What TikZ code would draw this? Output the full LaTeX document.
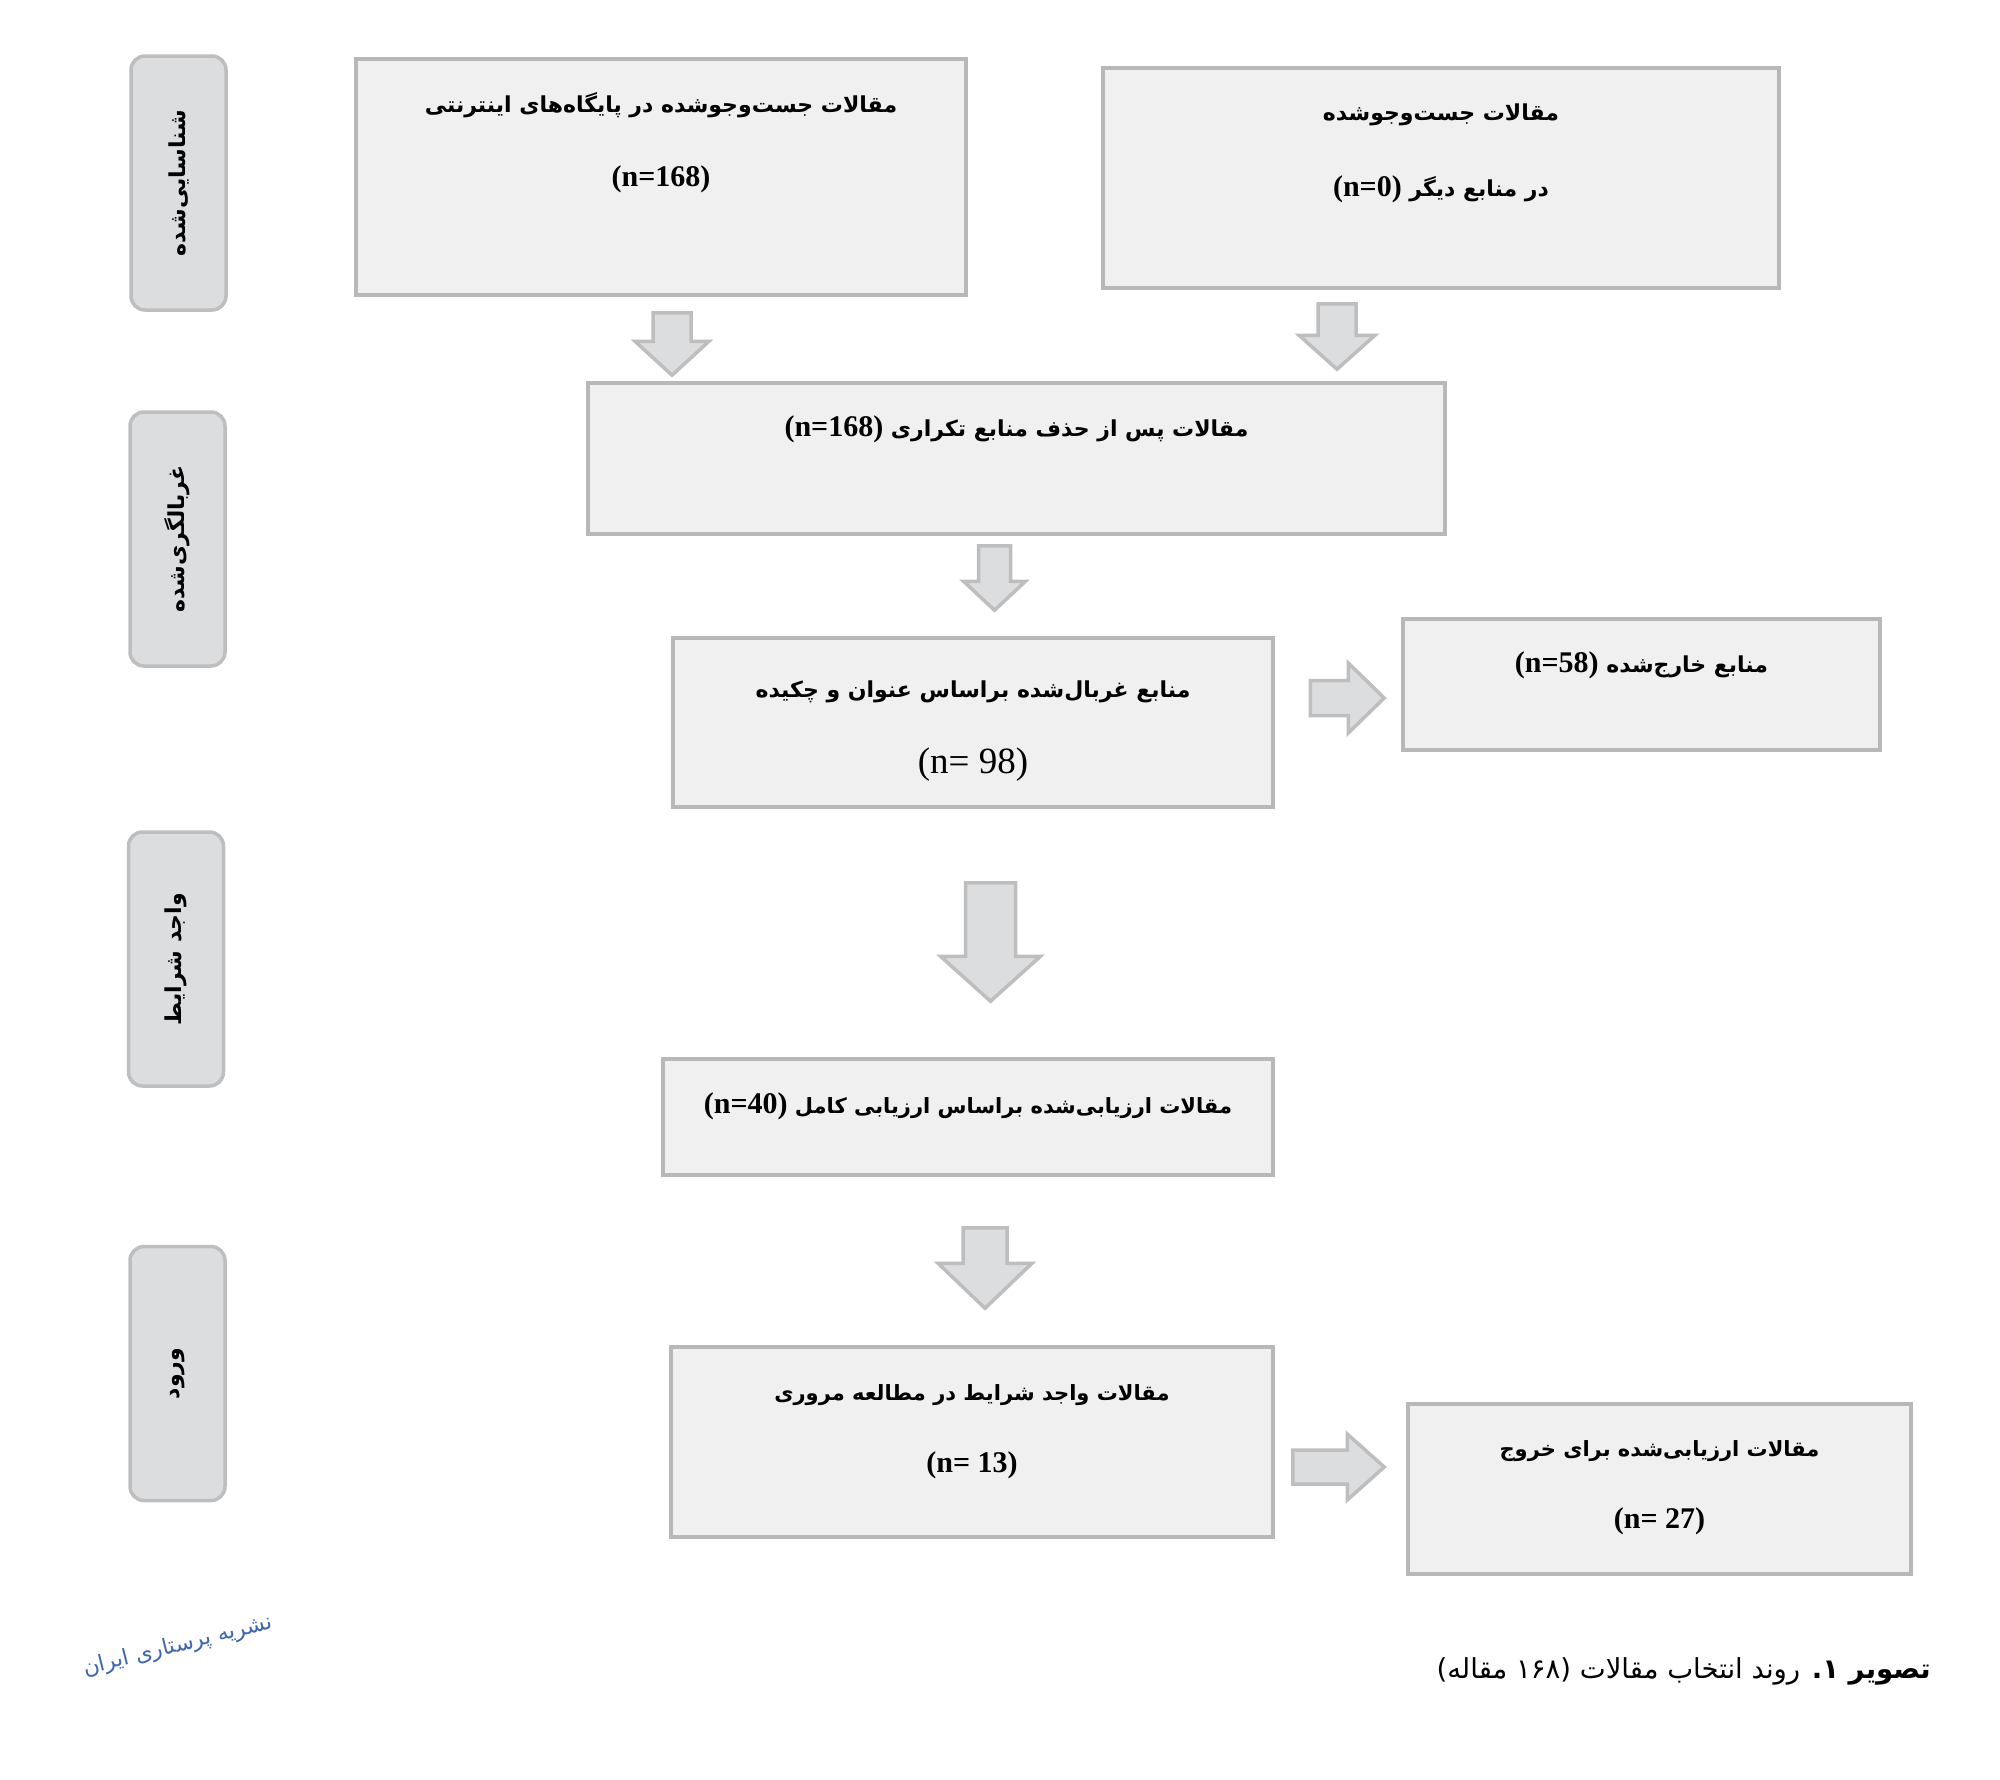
\documentclass[tikz,border=0pt]{standalone}
\usepackage{fontspec}
\setmainfont{Liberation Serif}
\newfontfamily\arabicfont[Script=Arabic]{DejaVu Sans}
\TeXXeTstate=1
\usetikzlibrary{calc}
\definecolor{boxfill}{HTML}{F0F0F0}
\definecolor{boxline}{HTML}{B8B8B8}
\definecolor{sidefill}{HTML}{DCDDDF}
\definecolor{sideline}{HTML}{BEBEBE}
\definecolor{logoblue}{HTML}{3F67B0}
\newcommand{\parsi}[1]{{\arabicfont\beginR #1\endR}}
\newcommand{\nbold}[1]{\beginL{\fontsize{30}{26}\selectfont\rmfamily #1}\endL}
\tikzset{
  paperbox/.style={draw=boxline, fill=boxfill, line width=3.5pt, inner sep=0pt, align=center,
    font=\bfseries\fontsize{22}{26}\selectfont},
  papersmall/.style={paperbox, font=\bfseries\fontsize{21}{26}\selectfont},
  sidebox/.style={draw=sideline, fill=sidefill, line width=3.5pt, rounded corners=14pt,
    minimum width=95pt, minimum height=254pt, inner sep=0pt},
  sidetext/.style={rotate=90, font=\bfseries\fontsize{22}{26}\selectfont},
  blockarrow/.style n args={3}{draw=sideline, fill=sidefill, line width=3.5pt,
    to path={($(\tikztostart)!#1pt!90:(\tikztotarget)$)
      -- ($(\tikztotarget)!#3pt!(\tikztostart)!#1pt!90:(\tikztotarget)$)
      -- ($(\tikztotarget)!#3pt!(\tikztostart)!#2pt!90:(\tikztotarget)$)
      -- (\tikztotarget)
      -- ($(\tikztotarget)!#3pt!(\tikztostart)!#2pt!-90:(\tikztotarget)$)
      -- ($(\tikztotarget)!#3pt!(\tikztostart)!#1pt!-90:(\tikztotarget)$)
      -- ($(\tikztostart)!#1pt!-90:(\tikztotarget)$) -- cycle}},
}
\begin{document}
\begin{tikzpicture}[x=1pt, y=-1pt]
  \useasboundingbox (0,0) rectangle (2000,1780);

  \node[sidebox] (sidea) at (178.5,183) {};
  \node[sidebox] (sideb) at (177.5,539) {};
  \node[sidebox] (sidec) at (176,959) {};
  \node[sidebox] (sided) at (177.5,1373.5) {};
  \node[sidetext] (sidealabel) at (sidea) {\parsi{شناسایی‌شده}};
  \node[sidetext] (sideblabel) at (sideb) {\parsi{غربالگری‌شده}};
  \node[sidetext] (sideclabel) at (sidec) {\parsi{واجد شرایط}};
  \node[sidetext] (sidedlabel) at (sided) {\parsi{ورود}};

  \node[paperbox, minimum width=610pt, minimum height=236pt] (search) at (661,177)
    {\parsi{مقالات جست‌وجوشده در پایگاه‌های اینترنتی}\\[46pt]\nbold{(n=168)}\\[49pt]\mbox{}};
  \node[paperbox, minimum width=676pt, minimum height=220pt] (other) at (1441,178)
    {\parsi{مقالات جست‌وجوشده}\\[49pt]\parsi{در منابع دیگر \nbold{(n=0)}}\\[30pt]\mbox{}};
  \node[paperbox, minimum width=857pt, minimum height=151pt] (dedup) at (1016.5,458.5)
    {\parsi{مقالات پس از حذف منابع تکراری \nbold{(n=168)}}\\[39pt]\mbox{}};
  \node[paperbox, minimum width=600pt, minimum height=169pt] (screen) at (973,722.5)
    {\parsi{منابع غربال‌شده براساس عنوان و چکیده}\\[44pt]\beginL{\mdseries\fontsize{37}{26}\selectfont (n= 98)}\endL\\[-35pt]\mbox{}};
  \node[paperbox, minimum width=477pt, minimum height=131pt] (excluded) at (1641.5,684.5)
    {\parsi{منابع خارج‌شده \nbold{(n=58)}}\\[18pt]\mbox{}};
  \node[papersmall, minimum width=610pt, minimum height=116pt] (assessed) at (968,1117)
    {\parsi{مقالات ارزیابی‌شده براساس ارزیابی کامل \nbold{(n=40)}}\\[2pt]\mbox{}};
  \node[papersmall, minimum width=602pt, minimum height=190pt] (included) at (972,1442)
    {\parsi{مقالات واجد شرایط در مطالعه مروری}\\[46pt]\nbold{(n= 13)}\\[0pt]\mbox{}};
  \node[papersmall, minimum width=503pt, minimum height=170pt] (leaving) at (1659.5,1489)
    {\parsi{مقالات ارزیابی‌شده برای خروج}\\[46pt]\nbold{(n= 27)}\\[-18pt]\mbox{}};

  \draw[blockarrow={19}{37}{34}] ([xshift=11pt,yshift=-16pt]search.south) to ([xshift=-344.5pt,yshift=6pt]dedup.north);
  \draw[blockarrow={19}{38}{34}] ([xshift=-104pt,yshift=-14pt]other.south) to ([xshift=320.5pt,yshift=12pt]dedup.north);
  \draw[blockarrow={16}{31}{29}] ([xshift=-22pt,yshift=-10pt]dedup.south) to ([xshift=21.5pt,yshift=26pt]screen.north);
  \draw[blockarrow={17.5}{35}{36}] ([xshift=35.5pt,yshift=24.5pt]screen.east) to ([xshift=-17pt,yshift=-13.5pt]excluded.west);
  \draw[blockarrow={25}{50}{45}] ([xshift=17.5pt,yshift=-74pt]screen.south) to ([xshift=22.5pt,yshift=56pt]assessed.north);
  \draw[blockarrow={22}{47}{45}] ([xshift=17pt,yshift=-51pt]assessed.south) to ([xshift=13pt,yshift=37pt]included.north);
  \draw[blockarrow={17}{33}{37}] ([xshift=18pt,yshift=-25pt]included.east) to ([xshift=-22pt,yshift=22pt]leaving.west);

  \node[rotate=14, text=logoblue, font=\fontsize{22}{24}\selectfont] (logo) at (178,1646) {\parsi{نشریه پرستاری ایران}};
  \node[anchor=east, inner sep=0pt, font=\fontsize{27.5}{30}\selectfont] (caption) at (1931,1671)
    {\parsi{{\bfseries تصویر ۱.} روند انتخاب مقالات (\beginL ۱۶۸\endL{} مقاله)}};
\end{tikzpicture}
\end{document}
